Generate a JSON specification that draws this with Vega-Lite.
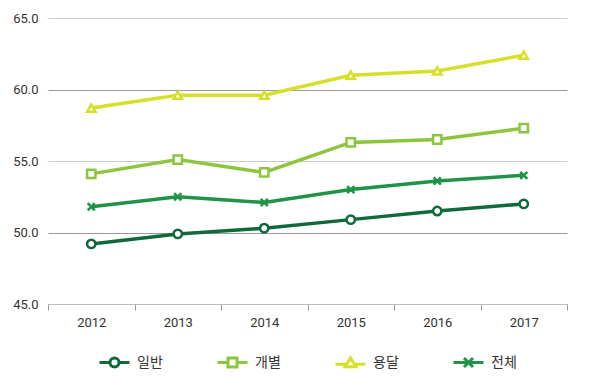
{
  "$schema": "https://vega.github.io/schema/vega-lite/v6.json",
  "width": 519,
  "height": 286,
  "autosize": "none",
  "padding": {"left": 48, "top": 18, "right": 33, "bottom": 85},
  "background": "white",
  "config": {"view": {"stroke": null}, "font": "Roboto", "legend": {"layout": {"bottom": {"anchor": "middle"}}}},
  "data": {"values": [
    {"year": "2012", "type": "일반", "value": 49.2},
    {"year": "2013", "type": "일반", "value": 49.9},
    {"year": "2014", "type": "일반", "value": 50.3},
    {"year": "2015", "type": "일반", "value": 50.9},
    {"year": "2016", "type": "일반", "value": 51.5},
    {"year": "2017", "type": "일반", "value": 52.0},
    {"year": "2012", "type": "개별", "value": 54.1},
    {"year": "2013", "type": "개별", "value": 55.1},
    {"year": "2014", "type": "개별", "value": 54.2},
    {"year": "2015", "type": "개별", "value": 56.3},
    {"year": "2016", "type": "개별", "value": 56.5},
    {"year": "2017", "type": "개별", "value": 57.3},
    {"year": "2012", "type": "용달", "value": 58.7},
    {"year": "2013", "type": "용달", "value": 59.6},
    {"year": "2014", "type": "용달", "value": 59.6},
    {"year": "2015", "type": "용달", "value": 61.0},
    {"year": "2016", "type": "용달", "value": 61.3},
    {"year": "2017", "type": "용달", "value": 62.4},
    {"year": "2012", "type": "전체", "value": 51.8},
    {"year": "2013", "type": "전체", "value": 52.5},
    {"year": "2014", "type": "전체", "value": 52.1},
    {"year": "2015", "type": "전체", "value": 53.0},
    {"year": "2016", "type": "전체", "value": 53.6},
    {"year": "2017", "type": "전체", "value": 54.0}
  ]},
  "encoding": {
    "x": {
      "field": "year", "type": "ordinal",
      "scale": {"type": "band", "paddingInner": 0, "paddingOuter": 0},
      "axis": {
        "title": null, "labelAngle": 0, "tickBand": "extent",
        "domainColor": "#bbbbbb", "tickColor": "#999999", "tickSize": 6,
        "labelFontSize": 13, "labelColor": "#333333", "labelPadding": 6,
        "grid": false
      }
    },
    "y": {
      "field": "value", "type": "quantitative",
      "scale": {"domain": [45, 65], "nice": false, "zero": false},
      "axis": {
        "title": null, "values": [45, 50, 55, 60, 65], "format": ".1f",
        "domain": false, "ticks": false, "labelPadding": 10,
        "labelFontSize": 13, "labelColor": "#333333",
        "gridColor": {"condition": {"test": "datum.value === 60 || datum.value === 50", "value": "#9a9a9a"}, "value": "#cccccc"},
        "gridWidth": 1
      }
    },
    "color": {
      "field": "type", "type": "nominal",
      "scale": {"domain": ["일반", "개별", "용달", "전체"], "range": ["#10693a", "#8cc63f", "#d6e02a", "#1f9447"]},
      "legend": {
        "title": null, "orient": "bottom", "direction": "horizontal", "offset": 17,
        "labelFont": "Noto Sans CJK KR", "labelFontSize": 14, "labelColor": "#333333",
        "labelOffset": 6, "columnPadding": 48, "symbolSize": 900, "symbolStrokeWidth": 3
      }
    }
  },
  "layer": [
    {"mark": {"type": "line", "strokeWidth": 3.5}},
    {
      "transform": [{"filter": "datum.type === '일반'"}],
      "mark": {"type": "point", "shape": "circle", "filled": false, "fill": "white", "fillOpacity": 1, "strokeWidth": 2.5, "size": 70, "opacity": 1}
    },
    {
      "transform": [{"filter": "datum.type === '개별'"}],
      "mark": {"type": "point", "shape": "square", "filled": false, "fill": "white", "fillOpacity": 1, "strokeWidth": 2.5, "size": 70, "opacity": 1}
    },
    {
      "transform": [{"filter": "datum.type === '용달'"}],
      "mark": {"type": "point", "shape": "triangle-up", "filled": false, "fill": "white", "fillOpacity": 1, "strokeWidth": 2.5, "size": 70, "opacity": 1}
    },
    {
      "transform": [{"filter": "datum.type === '전체'"}],
      "mark": {"type": "point", "shape": "M-1,-1L1,1M-1,1L1,-1", "filled": false, "strokeWidth": 2.5, "size": 50, "opacity": 1}
    },
    {
      "transform": [{"filter": "datum.type === 'none'"}],
      "mark": {"type": "point", "filled": false, "fill": "white", "fillOpacity": 1, "strokeWidth": 3, "size": 900, "opacity": 1},
      "encoding": {
        "shape": {
          "field": "type", "type": "nominal",
          "scale": {"domain": ["일반", "개별", "용달", "전체"], "range": [
            "M-1,0H-0.33M0.33,0H1M-0.3,0A0.3,0.3 0 1,0 0.3,0A0.3,0.3 0 1,0 -0.3,0Z",
            "M-1,0H-0.3M0.3,0H1M-0.3,-0.3H0.3V0.3H-0.3Z",
            "M-1,0.1H-0.3M0.3,0.1H1M0,-0.32L0.36,0.27H-0.36Z",
            "M-1,0H1M-0.3,-0.3L0.3,0.3M-0.3,0.3L0.3,-0.3"
          ]},
          "legend": {
            "title": null, "orient": "bottom", "direction": "horizontal", "offset": 17,
            "labelFont": "Noto Sans CJK KR", "labelFontSize": 14, "labelColor": "#333333",
            "labelOffset": 6, "columnPadding": 48, "symbolSize": 900, "symbolStrokeWidth": 3
          }
        }
      }
    }
  ]
}
